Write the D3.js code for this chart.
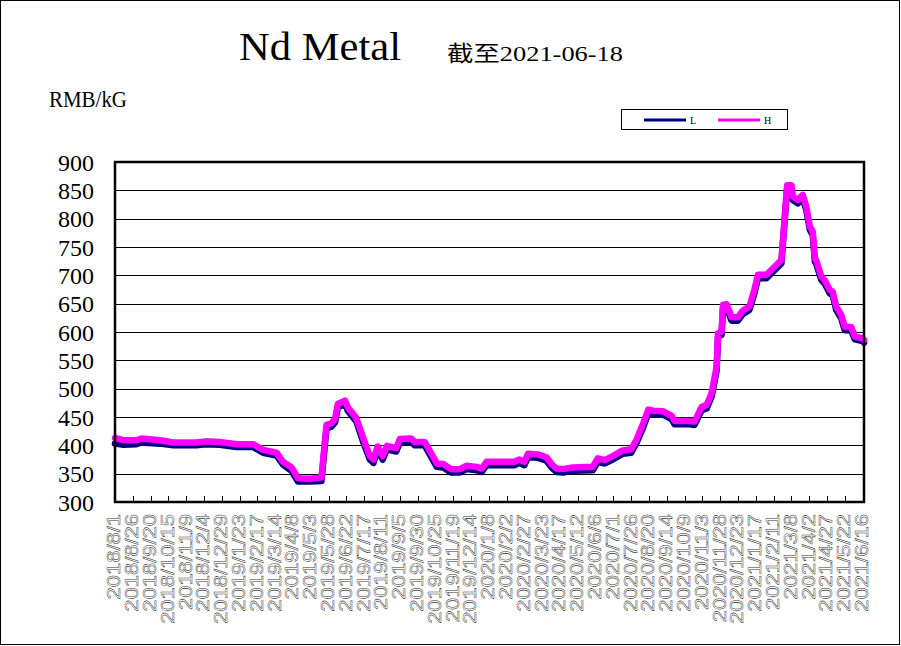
<!DOCTYPE html>
<html><head><meta charset="utf-8">
<script src="https://cdn.jsdelivr.net/npm/d3@7"></script>
<style>html,body{margin:0;padding:0;background:#fff;}svg{display:block;}</style>
</head><body>
<script>
const dates = [
"2018-08-01","2018-08-13","2018-08-31","2018-09-07","2018-10-03","2018-10-22","2018-11-23","2018-12-07","2018-12-26","2019-01-19",
"2019-02-11","2019-02-25","2019-03-16","2019-03-25","2019-04-06","2019-04-15","2019-05-01","2019-05-18","2019-05-25","2019-06-01",
"2019-06-06","2019-06-10","2019-06-20","2019-06-24","2019-07-06","2019-07-15","2019-07-25","2019-07-30","2019-08-05","2019-08-12",
"2019-08-18","2019-08-31","2019-09-05","2019-09-21","2019-09-26","2019-10-10","2019-10-27","2019-11-05","2019-11-16","2019-11-28",
"2019-12-08","2019-12-22","2019-12-29","2020-01-05","2020-02-13","2020-02-20","2020-02-27","2020-03-03","2020-03-17","2020-03-29",
"2020-04-05","2020-04-12","2020-04-21","2020-05-05","2020-06-02","2020-06-09","2020-06-19","2020-06-30","2020-07-14","2020-07-26",
"2020-08-02","2020-08-12","2020-08-19","2020-08-26","2020-09-09","2020-09-21","2020-09-25","2020-10-16","2020-10-23","2020-11-02",
"2020-11-09","2020-11-16","2020-11-23","2020-11-25","2020-11-30","2020-12-02","2020-12-07","2020-12-14","2020-12-23","2020-12-30",
"2021-01-08","2021-01-15","2021-01-20","2021-02-01","2021-02-22","2021-02-27","2021-03-02","2021-03-08","2021-03-10","2021-03-17",
"2021-03-24","2021-03-29","2021-04-03","2021-04-07","2021-04-10","2021-04-12","2021-04-19","2021-04-24","2021-05-01","2021-05-05",
"2021-05-10","2021-05-17","2021-05-22","2021-05-31","2021-06-05","2021-06-16","2021-06-18"];
const seriesH = [
413,409,409,412,409,405,405,407,406,402,
402,392,387,371,361,342,341,343,436,439,
446,473,479,467,448,415,381,375,398,381,
399,395,411,412,406,406,368,367,358,358,
364,362,359,371,371,375,371,385,384,379,
367,359,358,361,362,377,374,381,391,393,
409,439,463,461,460,452,443,443,442,468,
471,492,539,598,601,648,649,626,626,638,
645,674,701,701,727,809,859,859,839,833,
842,821,786,777,730,726,698,691,674,671,
645,630,609,609,592,589,586];
const seriesL = [
403,401,402,405,403,400,400,402,401,397,
397,387,382,366,355,336,336,337,430,433,
440,467,473,461,442,408,375,369,392,375,
393,389,405,406,400,400,362,361,352,352,
358,356,353,365,365,369,365,379,378,373,
361,353,352,355,356,371,368,375,385,387,
403,432,457,455,454,446,437,437,436,462,
465,486,532,592,595,642,643,620,620,632,
639,668,695,695,721,803,852,852,833,827,
836,815,780,771,724,720,692,685,668,665,
639,624,603,603,587,584,581];
const tickLabels = ["2018/8/1","2018/8/26","2018/9/20","2018/10/15","2018/11/9","2018/12/4","2018/12/29","2019/1/23","2019/2/17","2019/3/14","2019/4/8","2019/5/3","2019/5/28","2019/6/22","2019/7/17","2019/8/11","2019/9/5","2019/9/30","2019/10/25","2019/11/19","2019/12/14","2020/1/8","2020/2/2","2020/2/27","2020/3/23","2020/4/17","2020/5/12","2020/6/6","2020/7/1","2020/7/26","2020/8/20","2020/9/14","2020/10/9","2020/11/3","2020/11/28","2020/12/23","2021/1/17","2021/2/11","2021/3/8","2021/4/2","2021/4/27","2021/5/22","2021/6/16"];
const yTicks = [300,350,400,450,500,550,600,650,700,750,800,850,900];
const seriesNames = ["L","H"];
const seriesColors = ["#000080","#FF00FF"];
const titleText = "Nd Metal";
const subtitleText = "截至2021-06-18";
const unitText = "RMB/kG";
const domainStart = "2018-08-01", domainEnd = "2021-06-18";

const W = 901, H = 646;
const svg = d3.select("body").append("svg").attr("width", W).attr("height", H);
svg.append("rect").attr("x",0.5).attr("y",0.5).attr("width",899).attr("height",644).attr("fill","#fff").attr("stroke","#000").attr("stroke-width",1);

const parse = d3.timeParse("%Y-%m-%d");
const parseLbl = d3.timeParse("%Y/%-m/%-d");
const pL = 115, pR = 864, pT = 162, pB = 502;
const x = d3.scaleTime().domain([parse(domainStart), parse(domainEnd)]).range([pL, pR]);
const y = d3.scaleLinear().domain([300, 900]).range([pB, pT]);

// gridlines
svg.append("g").selectAll("line").data(yTicks).join("line")
  .attr("x1", pL).attr("x2", pR)
  .attr("y1", d => Math.round(y(d)) + 0.5).attr("y2", d => Math.round(y(d)) + 0.5)
  .attr("stroke", "#000").attr("stroke-width", 1);

// y labels
svg.append("g").selectAll("text").data(yTicks).join("text")
  .attr("x", 94).attr("y", d => y(d)).attr("dy", "0.36em")
  .attr("text-anchor", "end")
  .attr("font-family", "Liberation Serif, serif").attr("font-size", 24)
  .text(d => d);

// lines
const pts = [seriesL, seriesH];
const lineGen = d3.line().x(d => x(d.date)).y(d => y(d.v));
pts.forEach((s, i) => {
  const data = s.map((v, j) => ({date: parse(dates[j]), v}));
  svg.append("path").datum(data).attr("d", lineGen)
    .attr("fill", "none").attr("stroke", seriesColors[i]).attr("stroke-width", 6.5)
    .attr("stroke-linejoin", "round").attr("stroke-linecap", "round");
});

// plot border
svg.append("rect").attr("x", pL).attr("y", pT).attr("width", pR-pL).attr("height", pB-pT)
  .attr("fill", "none").attr("stroke", "#000").attr("stroke-width", 2.5);

// x ticks (inside) and labels
const tickDates = tickLabels.map(parseLbl);
svg.append("g").selectAll("line").data(tickDates).join("line")
  .attr("x1", d => Math.round(x(d))+0.5).attr("x2", d => Math.round(x(d))+0.5)
  .attr("y1", pB).attr("y2", pB - 6)
  .attr("stroke", "#000").attr("stroke-width", 1);
svg.append("g").selectAll("text").data(tickLabels).join("text")
  .attr("transform", (d, i) => `translate(${x(tickDates[i]) - 1},514) rotate(-90) scale(1.22,1)`)
  .attr("text-anchor", "end").attr("dy", "0.36em")
  .attr("font-family", "Liberation Sans, Arial, sans-serif").attr("font-size", 18)
  .attr("fill", "#fff").attr("stroke", "#333").attr("stroke-width", 0.45)
  .text(d => d);

// titles
svg.append("text").attr("x", 239).attr("y", 60)
  .attr("font-family", "Liberation Serif, serif").attr("font-size", 40)
  .attr("textLength", 162).attr("lengthAdjust", "spacingAndGlyphs")
  .text(titleText);
svg.append("text").attr("x", 447).attr("y", 61)
  .attr("font-family", "Liberation Serif, Noto Sans CJK SC, serif").attr("font-size", 22)
  .attr("textLength", 176).attr("lengthAdjust", "spacingAndGlyphs")
  .text(subtitleText);
svg.append("text").attr("x", 49).attr("y", 107)
  .attr("font-family", "Liberation Serif, serif").attr("font-size", 24)
  .attr("textLength", 78).attr("lengthAdjust", "spacingAndGlyphs")
  .text(unitText);

// legend
const lg = svg.append("g");
lg.append("rect").attr("x", 621.5).attr("y", 109.5).attr("width", 166).attr("height", 20)
  .attr("fill", "#fff").attr("stroke", "#000").attr("stroke-width", 1);
const legX = [644, 718];
seriesNames.forEach((n, i) => {
  lg.append("line").attr("x1", legX[i]).attr("x2", legX[i] + 42).attr("y1", 120).attr("y2", 120)
    .attr("stroke", seriesColors[i]).attr("stroke-width", 3);
  lg.append("text").attr("x", legX[i] + 46).attr("y", 123.5)
    .attr("font-family", "Liberation Serif, serif").attr("font-size", 10).text(n);
});
</script>
</body></html>
